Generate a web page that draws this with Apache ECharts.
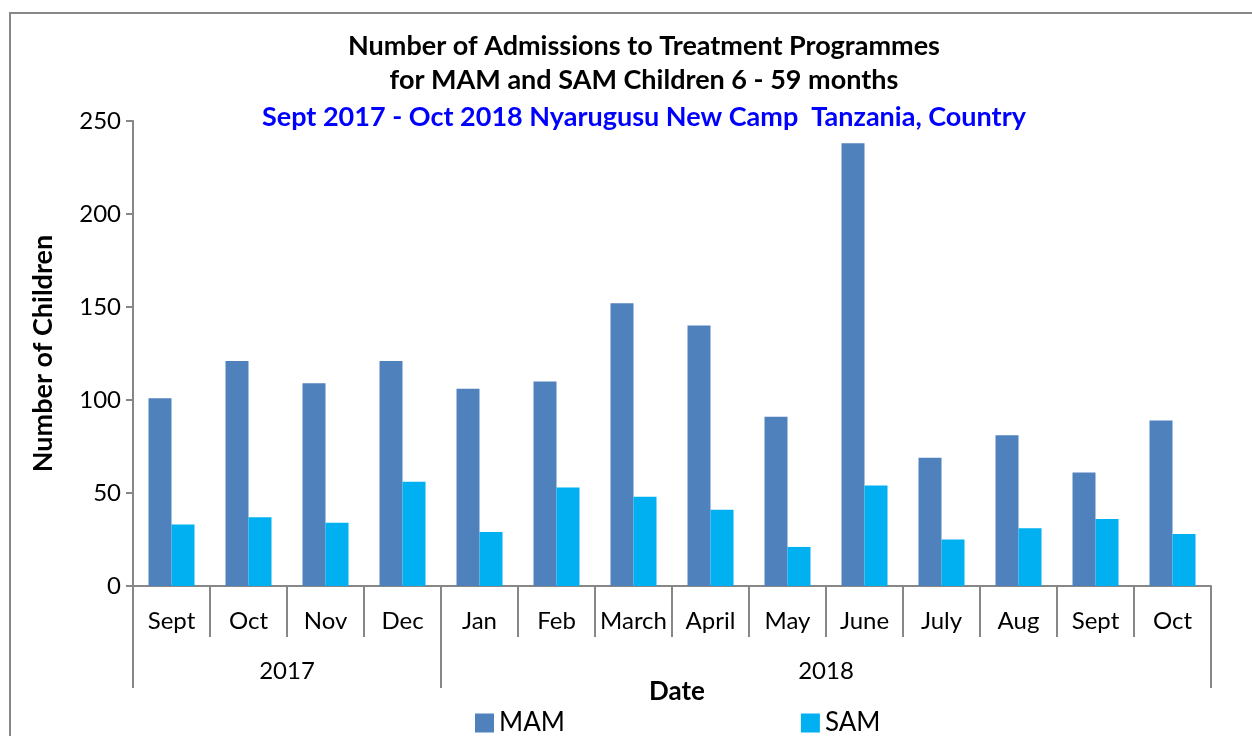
<!DOCTYPE html>
<html>
<head>
<meta charset="utf-8">
<script src="https://cdn.jsdelivr.net/npm/echarts@6/dist/echarts.min.js"></script>
<style>html,body{margin:0;padding:0;background:#fff}#c{width:1252px;height:736px}</style>
</head>
<body>
<div id="c"></div>
<script>
var months = ['Sept','Oct','Nov','Dec','Jan','Feb','March','April','May','June','July','Aug','Sept','Oct'];
var years = ['2017','2018'];
var yearSpans = [4, 10];
var mam = [101, 121, 109, 121, 106, 110, 152, 140, 91, 238, 69, 81, 61, 89];
var sam = [33, 37, 34, 56, 29, 53, 48, 41, 21, 54, 25, 31, 36, 28];
var yTicks = [0, 50, 100, 150, 200, 250];

var FONT = 'Lato, "Open Sans", sans-serif';
var GRAY = '#878787';

// year boundaries and centres on a 0..14 value scale
var bounds = [0], centres = [], acc = 0;
yearSpans.forEach(function (s) { centres.push(acc + s / 2); acc += s; bounds.push(acc); });

var chart = echarts.init(document.getElementById('c'));
chart.setOption({
  animation: false,
  backgroundColor: '#fff',
  textStyle: { fontFamily: FONT },
  grid: { left: 133, right: 41, top: 121, bottom: 150, containLabel: false },
  graphic: [
    { type: 'rect', shape: { x: 10, y: 13, width: 1300, height: 800 }, style: { fill: 'none', stroke: GRAY, lineWidth: 2 } },
    { type: 'text', x: 644, y: 46, style: { text: 'Number of Admissions to Treatment Programmes', font: 'bold 27px ' + FONT, fill: '#000', align: 'center', verticalAlign: 'middle' } },
    { type: 'text', x: 644, y: 80, style: { text: 'for MAM and SAM Children 6 - 59 months', font: 'bold 27px ' + FONT, fill: '#000', align: 'center', verticalAlign: 'middle' } },
    { type: 'text', x: 644, y: 117, style: { text: 'Sept 2017 - Oct 2018 Nyarugusu New Camp  Tanzania, Country', font: 'bold 27px ' + FONT, fill: '#0000FF', align: 'center', verticalAlign: 'middle' } },
    { type: 'text', x: 677, y: 692, style: { text: 'Date', font: 'bold 26px ' + FONT, fill: '#000', align: 'center', verticalAlign: 'middle' } }
  ],
  legend: {
    left: 470, top: 705,
    itemWidth: 19, itemHeight: 19, itemGap: 236, icon: 'rect',
    textStyle: { fontSize: 26, color: '#000', fontFamily: FONT },
    data: ['MAM', 'SAM']
  },
  xAxis: [
    {
      type: 'category', data: months, position: 'bottom',
      axisLine: { show: true, lineStyle: { color: GRAY, width: 2 } },
      axisTick: { show: true, interval: 0, length: 51, lineStyle: { color: GRAY, width: 2 } },
      axisLabel: { interval: 0, margin: 23, fontSize: 24, color: '#000', fontFamily: FONT }
    },
    {
      type: 'value', min: 0, max: 14, position: 'bottom',
      axisLine: { show: false },
      splitLine: { show: false },
      axisTick: { show: true, customValues: bounds, length: 102, lineStyle: { color: GRAY, width: 2 } },
      axisLabel: {
        customValues: centres, margin: 73, fontSize: 24, color: '#000', fontFamily: FONT,
        formatter: function (v) { var i = centres.indexOf(v); return i >= 0 ? years[i] : ''; }
      }
    }
  ],
  yAxis: {
    type: 'value', min: 0, max: 250, interval: 50,
    name: 'Number of Children', nameLocation: 'middle', nameRotate: 90, nameGap: 76,
    nameTextStyle: { fontSize: 27, fontWeight: 'bold', color: '#000', fontFamily: FONT },
    axisLine: { show: true, lineStyle: { color: GRAY, width: 2 } },
    axisTick: { show: true, length: 7, lineStyle: { color: GRAY, width: 2 } },
    splitLine: { show: false },
    axisLabel: {
      margin: 12, fontSize: 24, color: '#000', fontFamily: FONT,
      formatter: function (v) { return yTicks.indexOf(v) >= 0 ? String(v) : ''; }
    }
  },
  series: [
    { name: 'MAM', type: 'bar', data: mam, barWidth: 23, barGap: '0%', itemStyle: { color: '#4F81BD' } },
    { name: 'SAM', type: 'bar', data: sam, barWidth: 23, barGap: '0%', itemStyle: { color: '#00B0F0' } }
  ]
});
</script>
</body>
</html>
